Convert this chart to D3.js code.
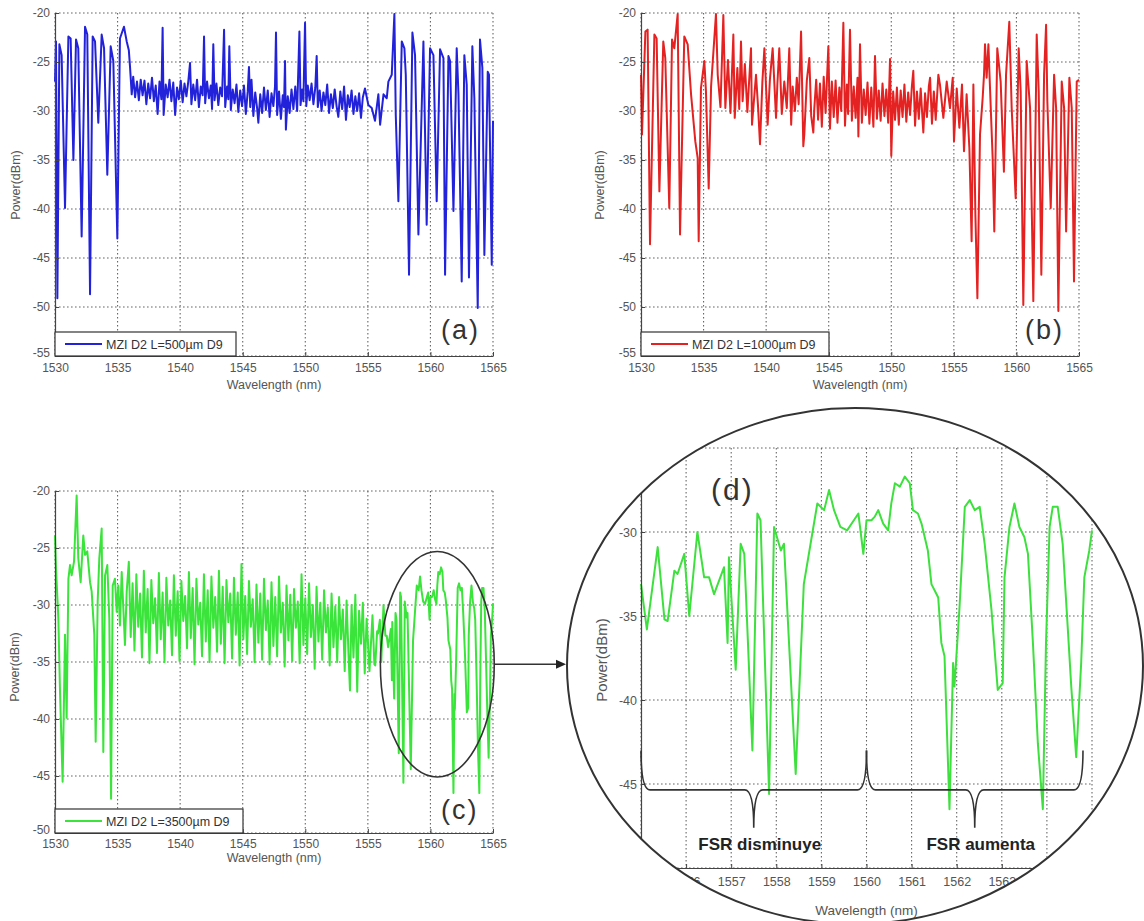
<!DOCTYPE html>
<html>
<head>
<meta charset="utf-8">
<script src="https://cdn.jsdelivr.net/npm/d3@7"></script>
<style>
  body { margin: 0; background: #fff; }
  svg text { font-family: "Liberation Sans", Arial, sans-serif; }
</style>
</head>
<body>
<svg id="fig" width="1144" height="921"></svg>
<script>
// tick values
var wideWaveTicks = [1530, 1535, 1540, 1545, 1550, 1555, 1560, 1565];
var zoomWaveTicks = [1555, 1556, 1557, 1558, 1559, 1560, 1561, 1562, 1563, 1564, 1565];
var powerTicksAB = [-55, -50, -45, -40, -35, -30, -25, -20];
var powerTicksC = [-50, -45, -40, -35, -30, -25, -20];
var powerTicksD = [-50, -45, -40, -35, -30, -25];

// legend texts
var legendA = "MZI D2 L=500\u00b5m D9";
var legendB = "MZI D2 L=1000\u00b5m D9";
var legendC = "MZI D2 L=3500\u00b5m D9";

// [wavelength nm, power dBm]
var spectrumA = [
  [1530.00,-27.0],[1530.08,-22.9],[1530.19,-49.1],[1530.35,-23.2],[1530.53,-24.3],[1530.80,-39.9],
  [1531.07,-22.4],[1531.25,-22.6],[1531.47,-35.0],[1531.68,-22.7],[1531.86,-23.6],[1532.13,-42.8],
  [1532.40,-21.4],[1532.58,-22.2],[1532.80,-48.7],[1533.01,-22.4],[1533.20,-22.9],[1533.46,-31.2],
  [1533.73,-22.2],[1533.92,-23.6],[1534.18,-36.5],[1534.45,-23.4],[1534.66,-24.9],[1534.98,-43.0],
  [1535.19,-22.6],[1535.51,-21.4],[1535.73,-22.9],[1535.90,-23.8],[1536.00,-25.6],[1536.13,-28.3],
  [1536.25,-26.5],[1536.40,-28.6],[1536.55,-27.0],[1536.70,-28.9],[1536.85,-26.8],[1537.00,-28.4],
  [1537.15,-26.9],[1537.30,-29.3],[1537.45,-27.2],[1537.60,-28.7],[1537.75,-26.6],[1537.90,-29.0],
  [1538.05,-27.4],[1538.20,-30.3],[1538.35,-27.0],[1538.50,-28.8],[1538.60,-21.5],[1538.68,-30.4],
  [1538.85,-27.3],[1539.00,-28.6],[1539.15,-26.8],[1539.30,-29.0],[1539.45,-27.1],[1539.60,-30.4],
  [1539.75,-27.6],[1539.90,-28.8],[1540.05,-26.9],[1540.20,-29.1],[1540.35,-27.2],[1540.50,-28.5],
  [1540.65,-27.0],[1540.79,-25.1],[1540.90,-29.3],[1541.05,-27.3],[1541.20,-28.9],[1541.35,-26.8],
  [1541.50,-29.6],[1541.65,-27.5],[1541.80,-28.4],[1541.91,-22.4],[1542.00,-29.2],[1542.15,-27.0],
  [1542.30,-28.7],[1542.45,-27.4],[1542.55,-29.8],[1542.65,-23.2],[1542.75,-28.9],[1542.90,-27.2],
  [1543.05,-29.4],[1543.20,-27.6],[1543.35,-28.5],[1543.51,-21.7],[1543.60,-29.6],[1543.75,-27.5],
  [1543.85,-28.8],[1543.93,-23.4],[1544.05,-29.9],[1544.20,-27.8],[1544.35,-29.2],[1544.50,-27.3],
  [1544.65,-30.1],[1544.80,-27.9],[1544.95,-29.5],[1545.10,-27.4],[1545.25,-30.3],[1545.40,-28.0],
  [1545.50,-25.5],[1545.60,-29.6],[1545.70,-26.8],[1545.85,-30.5],[1546.00,-28.1],[1546.15,-29.7],
  [1546.25,-31.2],[1546.40,-28.3],[1546.55,-30.2],[1546.70,-27.6],[1546.85,-29.9],[1547.00,-27.9],
  [1547.15,-30.6],[1547.30,-28.2],[1547.45,-29.5],[1547.58,-27.5],[1547.66,-22.0],[1547.75,-30.4],
  [1547.90,-28.0],[1548.05,-30.8],[1548.20,-28.4],[1548.30,-29.6],[1548.38,-24.9],[1548.45,-31.9],
  [1548.60,-28.5],[1548.75,-30.2],[1548.90,-27.8],[1549.05,-29.8],[1549.20,-27.5],[1549.35,-30.0],
  [1549.53,-21.9],[1549.62,-29.4],[1549.75,-27.8],[1549.85,-29.0],[1549.98,-21.0],[1550.08,-29.5],
  [1550.20,-27.4],[1550.35,-28.9],[1550.50,-27.2],[1550.65,-29.3],[1550.80,-27.6],[1550.91,-24.4],
  [1551.00,-29.6],[1551.15,-27.9],[1551.30,-30.0],[1551.45,-28.1],[1551.60,-29.4],[1551.75,-27.3],
  [1551.90,-30.2],[1552.05,-28.3],[1552.20,-29.7],[1552.35,-27.8],[1552.50,-29.5],[1552.64,-30.6],
  [1552.80,-28.0],[1552.95,-29.8],[1553.10,-27.5],[1553.25,-30.9],[1553.40,-28.4],[1553.55,-29.6],
  [1553.70,-27.9],[1553.85,-30.3],[1554.00,-28.5],[1554.15,-30.0],[1554.30,-28.2],[1554.45,-30.7],
  [1554.60,-28.6],[1554.77,-27.7],[1555.04,-29.4],[1555.31,-29.7],[1555.57,-31.0],[1555.84,-28.3],
  [1555.98,-31.4],[1556.25,-28.3],[1556.51,-28.7],[1556.64,-27.0],[1556.91,-26.3],[1557.12,-20.1],
  [1557.23,-30.4],[1557.44,-39.2],[1557.71,-22.9],[1557.92,-23.6],[1558.03,-26.3],[1558.29,-46.7],
  [1558.56,-22.0],[1558.77,-24.3],[1559.04,-42.6],[1559.44,-22.9],[1559.70,-41.6],[1559.97,-23.6],
  [1560.24,-24.3],[1560.50,-39.2],[1560.77,-23.7],[1561.04,-24.6],[1561.17,-46.7],[1561.44,-24.4],
  [1561.57,-24.9],[1561.84,-40.2],[1562.10,-23.6],[1562.24,-28.3],[1562.50,-47.4],[1562.71,-24.3],
  [1562.90,-27.3],[1563.08,-47.0],[1563.35,-23.4],[1563.51,-28.7],[1563.78,-50.1],[1563.96,-22.7],
  [1564.15,-25.6],[1564.31,-44.7],[1564.58,-26.0],[1564.68,-26.3],[1564.90,-45.7],[1565.00,-31.0]
];

var spectrumB = [
  [1530.00,-26.3],[1530.08,-32.4],[1530.35,-21.9],[1530.53,-21.7],[1530.72,-43.6],[1531.07,-22.2],
  [1531.25,-22.6],[1531.47,-38.2],[1531.78,-22.9],[1531.94,-24.6],[1532.26,-39.9],[1532.48,-22.7],
  [1532.66,-23.6],[1532.93,-20.1],[1533.12,-42.6],[1533.46,-22.4],[1533.73,-23.2],[1534.00,-28.3],
  [1534.34,-33.1],[1534.53,-34.8],[1534.61,-43.3],[1534.79,-27.7],[1535.06,-24.9],[1535.19,-28.0],
  [1535.41,-37.9],[1535.60,-27.5],[1535.99,-20.1],[1536.13,-26.3],[1536.35,-29.6],[1536.58,-20.2],
  [1536.74,-29.7],[1536.95,-24.8],[1537.15,-30.2],[1537.38,-22.2],[1537.49,-30.7],[1537.70,-25.6],
  [1537.85,-29.8],[1537.99,-22.9],[1538.12,-29.0],[1538.30,-25.2],[1538.50,-30.1],[1538.79,-23.6],
  [1538.87,-31.4],[1539.19,-26.3],[1539.35,-29.5],[1539.51,-33.4],[1539.70,-27.0],[1539.86,-23.6],
  [1540.12,-31.4],[1540.30,-26.8],[1540.52,-23.6],[1540.79,-30.7],[1540.90,-27.2],[1541.05,-23.6],
  [1541.25,-30.3],[1541.45,-27.0],[1541.65,-29.7],[1541.85,-23.6],[1542.00,-31.4],[1542.12,-27.5],
  [1542.30,-30.0],[1542.45,-26.6],[1542.60,-29.3],[1542.79,-21.9],[1542.97,-33.6],[1543.05,-32.4],
  [1543.25,-26.9],[1543.45,-24.6],[1543.60,-30.5],[1543.77,-32.2],[1543.85,-29.7],[1544.00,-26.8],
  [1544.15,-30.9],[1544.30,-27.2],[1544.45,-31.6],[1544.60,-26.5],[1544.75,-30.2],[1544.97,-23.4],
  [1545.10,-31.8],[1545.25,-27.0],[1545.40,-30.6],[1545.55,-26.9],[1545.70,-31.2],[1545.85,-27.6],
  [1546.00,-30.0],[1546.17,-21.0],[1546.30,-31.5],[1546.45,-27.3],[1546.55,-30.3],[1546.70,-21.7],
  [1546.85,-31.0],[1547.00,-27.5],[1547.15,-30.7],[1547.30,-26.6],[1547.37,-32.6],[1547.50,-23.2],
  [1547.65,-31.2],[1547.80,-27.8],[1547.95,-30.4],[1548.10,-27.1],[1548.25,-31.3],[1548.40,-27.6],
  [1548.57,-31.6],[1548.70,-24.4],[1548.85,-30.8],[1549.00,-27.9],[1549.15,-31.0],[1549.30,-27.2],
  [1549.45,-30.5],[1549.60,-27.8],[1549.75,-31.2],[1549.90,-24.7],[1550.00,-34.6],[1550.15,-28.0],
  [1550.30,-30.9],[1550.45,-27.6],[1550.60,-31.4],[1550.75,-27.9],[1550.90,-30.6],[1551.05,-27.3],
  [1551.20,-31.1],[1551.35,-28.1],[1551.50,-30.4],[1551.65,-27.4],[1551.76,-25.9],[1551.90,-31.5],
  [1552.05,-28.0],[1552.20,-30.8],[1552.35,-27.7],[1552.56,-32.2],[1552.70,-28.2],[1552.85,-30.6],
  [1553.00,-27.5],[1553.10,-26.6],[1553.25,-31.3],[1553.40,-28.0],[1553.55,-30.9],[1553.76,-26.3],
  [1553.89,-27.3],[1554.16,-30.7],[1554.43,-27.0],[1554.69,-29.7],[1554.91,-26.6],[1555.01,-33.1],
  [1555.23,-27.7],[1555.44,-31.7],[1555.65,-27.3],[1555.81,-34.1],[1556.02,-28.3],[1556.24,-33.8],
  [1556.42,-43.3],[1556.56,-27.3],[1556.72,-40.6],[1556.88,-49.1],[1557.09,-32.4],[1557.30,-28.7],
  [1557.41,-26.3],[1557.49,-23.2],[1557.62,-26.6],[1557.76,-23.2],[1557.89,-27.7],[1558.10,-34.8],
  [1558.23,-42.3],[1558.47,-23.6],[1558.74,-27.0],[1559.00,-36.2],[1559.17,-26.3],[1559.43,-20.9],
  [1559.62,-29.7],[1559.94,-38.9],[1560.18,-23.6],[1560.34,-28.0],[1560.55,-49.8],[1560.82,-24.9],
  [1561.09,-29.7],[1561.35,-49.4],[1561.62,-22.2],[1561.78,-28.0],[1561.99,-46.7],[1562.21,-26.3],
  [1562.37,-21.2],[1562.47,-29.0],[1562.74,-39.9],[1563.01,-26.3],[1563.17,-29.7],[1563.35,-50.4],
  [1563.62,-27.0],[1563.81,-29.7],[1563.97,-42.3],[1564.23,-26.6],[1564.42,-29.7],[1564.60,-47.4],
  [1564.82,-27.0],[1565.00,-26.8]
];

// panel (c) up to 1555 nm; the rest is the same trace shown enlarged in (d)
var spectrumC = [
  [1530.00,-23.9],[1530.08,-26.8],[1530.27,-31.2],[1530.40,-37.6],[1530.61,-45.5],[1530.80,-32.6],
  [1530.93,-39.9],[1531.07,-27.7],[1531.20,-26.5],[1531.33,-27.4],[1531.52,-26.2],[1531.73,-20.4],
  [1531.86,-25.9],[1532.05,-28.0],[1532.26,-23.9],[1532.40,-25.6],[1532.58,-25.3],[1532.80,-28.0],
  [1532.93,-28.8],[1533.14,-32.6],[1533.25,-42.0],[1533.41,-29.7],[1533.54,-25.9],[1533.73,-23.3],
  [1533.86,-42.9],[1534.00,-27.4],[1534.18,-26.5],[1534.34,-31.2],[1534.48,-47.0],[1534.61,-28.3],
  [1534.79,-27.7],[1534.93,-30.6],[1535.06,-28.3],[1535.19,-31.8],[1535.33,-27.1],[1535.59,-33.5],
  [1535.73,-28.8],[1535.90,-26.2],[1536.05,-32.8],[1536.20,-28.1],[1536.35,-34.0],[1536.50,-27.3],
  [1536.65,-31.9],[1536.80,-29.0],[1536.95,-34.6],[1537.10,-27.0],[1537.25,-32.4],[1537.40,-28.6],
  [1537.55,-35.1],[1537.70,-27.8],[1537.85,-31.6],[1538.00,-29.4],[1538.15,-34.2],[1538.30,-27.2],
  [1538.45,-33.0],[1538.60,-28.9],[1538.75,-35.0],[1538.90,-27.6],[1539.05,-31.8],[1539.20,-29.6],
  [1539.35,-34.4],[1539.50,-27.4],[1539.65,-32.7],[1539.80,-28.8],[1539.95,-34.9],[1540.10,-27.9],
  [1540.25,-31.4],[1540.40,-29.2],[1540.55,-33.8],[1540.70,-27.1],[1540.85,-32.9],[1541.00,-28.5],
  [1541.15,-35.2],[1541.30,-27.7],[1541.45,-31.7],[1541.60,-29.8],[1541.75,-34.5],[1541.90,-27.3],
  [1542.05,-33.2],[1542.20,-28.7],[1542.35,-35.0],[1542.50,-27.5],[1542.65,-32.0],[1542.80,-29.3],
  [1542.95,-34.1],[1543.10,-27.0],[1543.25,-33.4],[1543.40,-28.4],[1543.55,-35.1],[1543.70,-27.8],
  [1543.85,-31.5],[1544.00,-29.0],[1544.15,-34.7],[1544.30,-27.6],[1544.45,-32.6],[1544.60,-28.9],
  [1544.75,-35.3],[1544.90,-26.4],[1545.05,-33.0],[1545.20,-29.2],[1545.35,-34.3],[1545.50,-27.9],
  [1545.65,-31.9],[1545.80,-29.5],[1545.95,-35.0],[1546.10,-28.2],[1546.25,-33.3],[1546.40,-29.0],
  [1546.55,-34.8],[1546.70,-27.7],[1546.85,-32.2],[1547.00,-29.6],[1547.15,-35.2],[1547.30,-28.0],
  [1547.45,-33.6],[1547.60,-29.3],[1547.75,-34.5],[1547.90,-27.5],[1548.05,-32.4],[1548.20,-29.8],
  [1548.35,-35.4],[1548.50,-28.3],[1548.65,-33.1],[1548.80,-29.1],[1548.95,-34.9],[1549.10,-28.6],
  [1549.25,-32.0],[1549.40,-29.7],[1549.55,-35.1],[1549.70,-27.3],[1549.85,-33.5],[1550.00,-29.4],
  [1550.15,-34.3],[1550.30,-28.1],[1550.45,-32.8],[1550.60,-30.0],[1550.75,-35.6],[1550.90,-28.4],
  [1551.05,-33.2],[1551.20,-29.8],[1551.35,-34.8],[1551.50,-28.7],[1551.65,-32.4],[1551.80,-30.2],
  [1551.95,-35.3],[1552.10,-29.0],[1552.25,-33.7],[1552.40,-30.1],[1552.55,-35.0],[1552.70,-29.3],
  [1552.85,-33.0],[1553.00,-30.4],[1553.15,-35.8],[1553.30,-29.6],[1553.45,-34.2],[1553.57,-37.5],
  [1553.70,-30.0],[1553.85,-34.6],[1554.00,-29.1],[1554.15,-37.6],[1554.30,-30.5],[1554.45,-33.4],
  [1554.60,-29.8],[1554.75,-36.0],[1554.90,-31.2]
];

var spectrumD = [
  [1555.00,-33.1],[1555.13,-35.8],[1555.37,-30.9],[1555.52,-35.2],[1555.59,-35.3],[1555.74,-32.3],
  [1555.81,-32.5],[1555.96,-31.3],[1556.07,-35.0],[1556.25,-30.0],[1556.40,-32.7],[1556.51,-32.7],
  [1556.62,-33.7],[1556.84,-32.1],[1556.92,-36.6],[1556.95,-31.5],[1557.10,-38.2],[1557.21,-30.7],
  [1557.29,-31.3],[1557.47,-43.0],[1557.58,-28.9],[1557.65,-29.3],[1557.84,-45.6],[1557.95,-29.7],
  [1558.10,-31.1],[1558.17,-30.7],[1558.43,-44.4],[1558.61,-33.1],[1558.76,-30.7],[1558.91,-28.3],
  [1559.06,-28.7],[1559.17,-27.5],[1559.28,-28.7],[1559.42,-29.7],[1559.57,-29.9],[1559.72,-29.3],
  [1559.82,-28.9],[1559.93,-31.3],[1560.00,-29.3],[1560.11,-29.3],[1560.18,-29.1],[1560.26,-28.7],
  [1560.37,-29.5],[1560.48,-29.9],[1560.55,-28.3],[1560.63,-27.1],[1560.74,-27.3],[1560.85,-26.7],
  [1560.96,-27.1],[1561.03,-28.7],[1561.14,-28.9],[1561.22,-29.5],[1561.36,-31.1],[1561.44,-33.1],
  [1561.59,-33.9],[1561.66,-36.6],[1561.73,-37.4],[1561.84,-46.5],[1561.92,-37.8],[1561.95,-39.2],
  [1562.06,-34.6],[1562.18,-28.5],[1562.29,-28.1],[1562.40,-28.7],[1562.51,-28.5],[1562.62,-30.7],
  [1562.77,-34.6],[1562.91,-39.4],[1563.02,-39.0],[1563.06,-32.7],[1563.17,-29.7],[1563.28,-28.3],
  [1563.39,-29.7],[1563.50,-30.3],[1563.58,-31.3],[1563.69,-36.6],[1563.80,-42.6],[1563.91,-46.5],
  [1563.98,-36.6],[1564.06,-29.7],[1564.13,-28.5],[1564.24,-28.5],[1564.35,-30.7],[1564.46,-35.6],
  [1564.54,-39.2],[1564.65,-43.4],[1564.76,-37.8],[1564.83,-32.7],[1564.94,-31.1],[1565.00,-29.9]
];

// FSR braces drawn under the zoomed trace (wavelength span, tip, label)
var fsrBraces = [
  { from: 1555.0, to: 1560.0, tip: 1557.5, label: "FSR disminuye" },
  { from: 1560.0, to: 1564.8, tip: 1562.4, label: "FSR aumenta" }
];

var svg = d3.select("#fig");

function drawPanel(p) {
  var g = p.parent.append("g")
      .attr("transform", "translate(" + p.left + "," + p.top + ")");

  var x = d3.scaleLinear().domain(p.xDomain).range([0, p.width]);
  var y = d3.scaleLinear().domain(p.yDomain).range([p.height, 0]);

  // dotted grid
  g.append("g").selectAll("line").data(p.xTicks).enter().append("line")
      .attr("x1", function (d) { return x(d); })
      .attr("x2", function (d) { return x(d); })
      .attr("y1", 0).attr("y2", p.height)
      .attr("stroke", "#666").attr("stroke-width", 1.1)
      .attr("stroke-dasharray", "1.6,2.4");
  g.append("g").selectAll("line").data(p.yTicks).enter().append("line")
      .attr("y1", function (d) { return y(d); })
      .attr("y2", function (d) { return y(d); })
      .attr("x1", 0).attr("x2", p.width)
      .attr("stroke", "#666").attr("stroke-width", 1.1)
      .attr("stroke-dasharray", "1.6,2.4");

  var line = d3.line()
      .x(function (d) { return x(d[0]); })
      .y(function (d) { return y(d[1]); });

  g.append("path")
      .datum(p.data)
      .attr("d", line)
      .attr("fill", "none")
      .attr("stroke", p.color)
      .attr("stroke-width", p.lineWidth)
      .attr("stroke-linejoin", "round");

  var fmt = function (d) { return String(d); };

  var xAxis = g.append("g")
      .attr("transform", "translate(0," + p.height + ")")
      .call(d3.axisBottom(x).tickValues(p.xTicks).tickFormat(fmt)
        .tickSizeInner(-4).tickSizeOuter(0).tickPadding(p.xPad));
  var yAxis = g.append("g")
      .call(d3.axisLeft(y).tickValues(p.yTicks).tickFormat(fmt)
        .tickSizeInner(-4).tickSizeOuter(0).tickPadding(p.yPad));

  [xAxis, yAxis].forEach(function (a) {
    a.attr("font-family", "Liberation Sans, Arial, sans-serif")
     .attr("font-size", p.tickFont);
    a.select(".domain").attr("stroke", "#444").attr("stroke-width", 1.2);
    a.selectAll(".tick line").attr("stroke", "#444");
    a.selectAll(".tick text").attr("fill", "#555");
  });
  // lowest power label sits a little higher so it clears the first wavelength label
  yAxis.selectAll(".tick text")
      .filter(function (d) { return d === p.yDomain[0]; })
      .attr("dy", "0.05em");

  g.append("text")
      .attr("x", p.width / 2)
      .attr("y", p.height + p.xTitleOffset)
      .attr("text-anchor", "middle")
      .attr("font-size", p.titleFont)
      .attr("fill", "#555")
      .text("Wavelength (nm)");

  g.append("text")
      .attr("transform", "translate(" + p.yTitleX + "," + p.yTitleY + ") rotate(-90)")
      .attr("text-anchor", "middle")
      .attr("dy", "0.35em")
      .attr("font-size", p.yTitleFont || p.titleFont)
      .attr("fill", "#555")
      .text("Power(dBm)");

  if (p.legend) {
    var leg = g.append("g")
        .attr("transform", "translate(0," + (p.height - 24) + ")");
    leg.append("rect")
        .attr("width", p.legendWidth).attr("height", 24)
        .attr("fill", "#fff").attr("stroke", "#333").attr("stroke-width", 1.2);
    leg.append("line")
        .attr("x1", 10).attr("x2", 47).attr("y1", 12).attr("y2", 12)
        .attr("stroke", p.color).attr("stroke-width", 2);
    leg.append("text")
        .attr("x", 51).attr("y", 16.5)
        .attr("font-size", 12.5).attr("fill", "#333")
        .text(p.legend);
  }

  g.append("text")
      .attr("x", p.labelX).attr("y", p.labelY)
      .attr("font-family", "Open Sans, sans-serif")
      .attr("font-size", p.labelFont)
      .attr("letter-spacing", 2)
      .attr("fill", "#333")
      .text(p.label);

  return { g: g, x: x, y: y };
}

var panelA = drawPanel({
  parent: svg, left: 55, top: 13, width: 438, height: 343,
  xDomain: [1530, 1565], yDomain: [-55, -20],
  xTicks: wideWaveTicks, yTicks: powerTicksAB,
  data: spectrumA, color: "#2222da", lineWidth: 2,
  tickFont: 12, titleFont: 12.5, xPad: 7, yPad: 5,
  xTitleOffset: 33, yTitleX: -39, yTitleY: 172,
  legend: legendA, legendWidth: 181,
  label: "(a)", labelX: 386, labelY: 326, labelFont: 27
});

var panelB = drawPanel({
  parent: svg, left: 641, top: 13, width: 438, height: 343,
  xDomain: [1530, 1565], yDomain: [-55, -20],
  xTicks: wideWaveTicks, yTicks: powerTicksAB,
  data: spectrumB, color: "#e42222", lineWidth: 2,
  tickFont: 12, titleFont: 12.5, xPad: 7, yPad: 5,
  xTitleOffset: 33, yTitleX: -41, yTitleY: 172,
  legend: legendB, legendWidth: 188,
  label: "(b)", labelX: 384, labelY: 326, labelFont: 27
});

var panelC = drawPanel({
  parent: svg, left: 55, top: 491, width: 438, height: 342,
  xDomain: [1530, 1565], yDomain: [-50, -20],
  xTicks: wideWaveTicks, yTicks: powerTicksC,
  data: spectrumC.concat(spectrumD), color: "#3be43b", lineWidth: 2,
  tickFont: 12, titleFont: 12.5, xPad: 6, yPad: 5,
  xTitleOffset: 29, yTitleX: -40, yTitleY: 176,
  legend: legendC, legendWidth: 188,
  label: "(c)", labelX: 386, labelY: 328, labelFont: 27
});

// ellipse marking the zoomed region in (c)
panelC.g.append("ellipse")
    .attr("cx", panelC.x(1560.55)).attr("cy", panelC.y(-35.2))
    .attr("rx", panelC.x(1565) - panelC.x(1560.45))
    .attr("ry", panelC.y(-45) - panelC.y(-35.2) + 1)
    .attr("fill", "none").attr("stroke", "#333").attr("stroke-width", 1.6);

// magnified panel (d), clipped to the lens
var lens = { cx: 855, cy: 666, rx: 288, ry: 258 };
svg.append("clipPath").attr("id", "lensClip")
  .append("ellipse")
    .attr("cx", lens.cx).attr("cy", lens.cy).attr("rx", lens.rx).attr("ry", lens.ry);

var lensGroup = svg.append("g").attr("clip-path", "url(#lensClip)");

var panelD = drawPanel({
  parent: lensGroup, left: 641, top: 448, width: 451, height: 420,
  xDomain: [1555, 1565], yDomain: [-50, -25],
  xTicks: zoomWaveTicks, yTicks: powerTicksD,
  data: spectrumD, color: "#3ee03e", lineWidth: 2,
  tickFont: 12.5, titleFont: 13.5, yTitleFont: 15, xPad: 9, yPad: 4,
  xTitleOffset: 47, yTitleX: -39, yTitleY: 212,
  legend: null,
  label: "(d)", labelX: 70, labelY: 52, labelFont: 30
});

// FSR braces
var braceY = panelD.y(-45.35), braceEnd = panelD.y(-43.0), braceTip = panelD.y(-47.6);
function bracePath(b) {
  var x0 = panelD.x(b.from), x1 = panelD.x(b.to), xt = panelD.x(b.tip), r = 9;
  return "M" + x0 + "," + braceEnd +
    " Q" + x0 + "," + braceY + " " + (x0 + r) + "," + braceY +
    " L" + (xt - r) + "," + braceY +
    " Q" + xt + "," + braceY + " " + xt + "," + braceTip +
    " Q" + xt + "," + braceY + " " + (xt + r) + "," + braceY +
    " L" + (x1 - r) + "," + braceY +
    " Q" + x1 + "," + braceY + " " + x1 + "," + braceEnd;
}
panelD.g.selectAll(".brace").data(fsrBraces).enter().append("path")
    .attr("class", "brace")
    .attr("d", bracePath)
    .attr("fill", "none").attr("stroke", "#333").attr("stroke-width", 1.6);
panelD.g.selectAll(".fsr").data(fsrBraces).enter().append("text")
    .attr("class", "fsr")
    .attr("x", function (d) { return panelD.x(d.tip) + 6; })
    .attr("y", braceTip + 22)
    .attr("text-anchor", "middle")
    .attr("font-family", "Open Sans, sans-serif")
    .attr("font-weight", "bold")
    .attr("font-size", 17)
    .attr("fill", "#222")
    .text(function (d) { return d.label; });

svg.append("ellipse")
    .attr("cx", lens.cx).attr("cy", lens.cy).attr("rx", lens.rx).attr("ry", lens.ry)
    .attr("fill", "none").attr("stroke", "#333").attr("stroke-width", 2);

// arrow from the (c) ellipse to the lens
var arrowY = 491 + panelC.y(-35.2);
var arrowTip = lens.cx - lens.rx - 1;
svg.append("line")
    .attr("x1", 494).attr("x2", arrowTip - 8).attr("y1", arrowY).attr("y2", arrowY)
    .attr("stroke", "#333").attr("stroke-width", 1.5);
svg.append("path")
    .attr("d", "M" + (arrowTip - 10) + "," + (arrowY - 4.5) + " L" + arrowTip + "," + arrowY +
      " L" + (arrowTip - 10) + "," + (arrowY + 4.5) + " Z")
    .attr("fill", "#222");
</script>
</body>
</html>
